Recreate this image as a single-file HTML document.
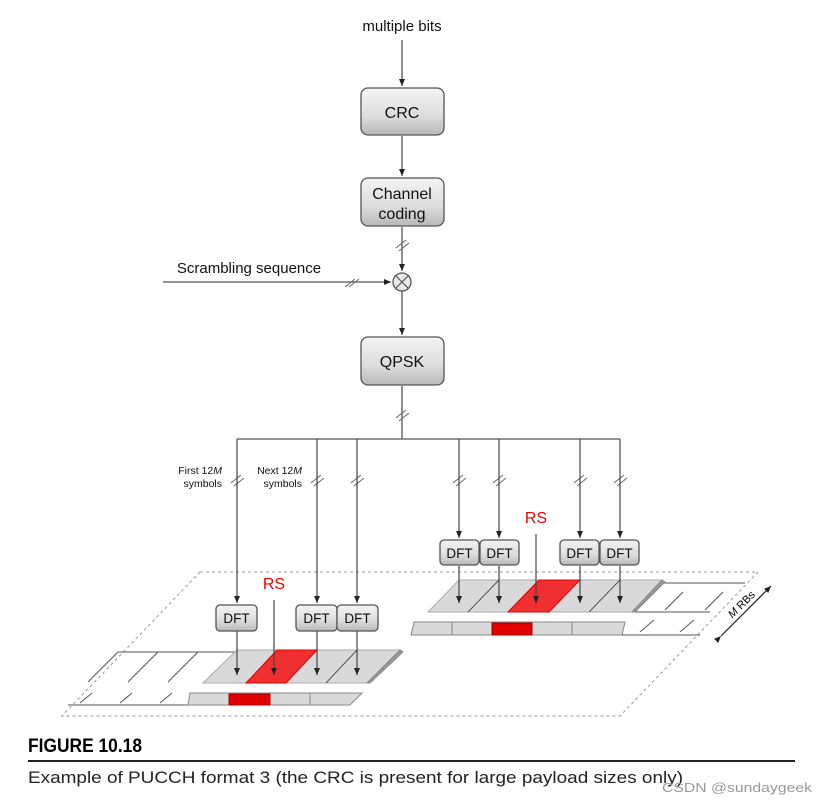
<!DOCTYPE html>
<html><head><meta charset="utf-8"><style>
html,body{margin:0;padding:0;background:#fff;}
svg{display:block;font-family:"Liberation Sans",Arial,sans-serif;}
</style></head><body>
<svg width="819" height="806" viewBox="0 0 819 806" xmlns="http://www.w3.org/2000/svg">
<defs>
<linearGradient id="g" x1="0" y1="0" x2="0" y2="1">
<stop offset="0" stop-color="#f4f4f4"/><stop offset="0.6" stop-color="#dcdcdc"/><stop offset="1" stop-color="#b8b8b8"/>
</linearGradient>
<marker id="a" markerWidth="8" markerHeight="8" refX="7" refY="4" orient="auto" markerUnits="userSpaceOnUse">
<path d="M0,1 L7,4 L0,7 z" fill="#222"/></marker>
</defs>
<g stroke="#555" stroke-width="1.3" fill="none">
<!-- top chain -->
<line x1="402" y1="40" x2="402" y2="86" marker-end="url(#a)"/>
<line x1="402" y1="136" x2="402" y2="176" marker-end="url(#a)"/>
<line x1="402" y1="227" x2="402" y2="271" marker-end="url(#a)"/>
<line x1="163" y1="282" x2="391" y2="282" marker-end="url(#a)"/>
<line x1="402" y1="291" x2="402" y2="335" marker-end="url(#a)"/>
<line x1="402" y1="386" x2="402" y2="439"/>
<line x1="237" y1="439" x2="620" y2="439"/>
</g>
<g stroke="#666" stroke-width="1" fill="none">
<path d="M396,248 l10,-8 M399,251 l10,-8"/>
<path d="M345,287 l10,-8 M349,287 l10,-8"/>
<path d="M396,418 l10,-8 M399,421 l10,-8"/>
<path d="M231,483 l10,-8 M234,486 l10,-8"/>
<path d="M311,483 l10,-8 M314,486 l10,-8"/>
<path d="M351,483 l10,-8 M354,486 l10,-8"/>
<path d="M453,483 l10,-8 M456,486 l10,-8"/>
<path d="M493,483 l10,-8 M496,486 l10,-8"/>
<path d="M574,483 l10,-8 M577,486 l10,-8"/>
<path d="M614,483 l10,-8 M617,486 l10,-8"/>
</g>
<!-- xor circle -->
<circle cx="402" cy="282" r="9" fill="#e8e8e8" stroke="#555" stroke-width="1.3"/>
<path d="M396,276 L408,288 M408,276 L396,288" stroke="#555" stroke-width="1.2"/>
<!-- dashed plane -->
<path d="M200,572 L758,572 L620,716 L62,716 Z" fill="none" stroke="#999" stroke-width="1" stroke-dasharray="3,3"/>
<!-- right strip -->
<g stroke="#555" stroke-width="1">
<line x1="662" y1="583" x2="745" y2="583"/>
<line x1="632" y1="612" x2="710" y2="612"/>
<path d="M665,610 l18,-18 M705,610 l18,-18 M640,632 l14,-12 M680,632 l14,-12" fill="none"/>
<polygon points="459,580 662,580 632,612 428,612" fill="#d9d9d9" stroke="#aaa"/>
<polygon points="662,580 665,582 635,612 632,612" fill="#999" stroke="#888"/>
<polygon points="539,580 580,580 549,612 508,612" fill="#f03030" stroke="#d00"/>
<path d="M499,580 L468,612 M620,580 L589,612" stroke="#555" fill="none"/>
<polygon points="414,622 625,622 622,635 411,635" fill="#d9d9d9" stroke="#888"/>
<rect x="492" y="623" width="40" height="12" fill="#e00000" stroke="#a00"/>
<path d="M452,622 v13 M572,622 v13" stroke="#888"/>
<line x1="622" y1="635" x2="700" y2="635"/>
</g>
<!-- left strip -->
<g stroke="#555" stroke-width="1">
<line x1="118" y1="652" x2="237" y2="652"/>
<line x1="68" y1="705" x2="188" y2="705"/>
<path d="M118,652 l-30,30 M158,652 l-30,30 M198,652 l-30,30 M80,703 l12,-10 M120,703 l12,-10 M160,703 l12,-10" fill="none"/>
<polygon points="237,650 400,650 367,683 203,683" fill="#d9d9d9" stroke="#aaa"/>
<polygon points="400,650 403,652 370,683 367,683" fill="#999" stroke="#888"/>
<polygon points="277,650 317,650 286,683 246,683" fill="#f03030" stroke="#d00"/>
<path d="M357,650 L326,683" stroke="#555" fill="none"/>
<polygon points="190,693 362,693 350,705 188,705" fill="#d9d9d9" stroke="#888"/>
<rect x="229" y="694" width="41" height="11" fill="#e00000" stroke="#a00"/>
<path d="M310,693 v12" stroke="#888"/>
</g>
<!-- verticals to DFT and down -->
<g stroke="#444" stroke-width="1.2" fill="none">
<line x1="237" y1="439" x2="237" y2="603" marker-end="url(#a)"/>
<line x1="317" y1="439" x2="317" y2="603" marker-end="url(#a)"/>
<line x1="357" y1="439" x2="357" y2="603" marker-end="url(#a)"/>
<line x1="237" y1="631" x2="237" y2="675" marker-end="url(#a)"/>
<line x1="317" y1="631" x2="317" y2="675" marker-end="url(#a)"/>
<line x1="357" y1="631" x2="357" y2="675" marker-end="url(#a)"/>
<line x1="274" y1="600" x2="274" y2="675" marker-end="url(#a)"/>
<line x1="459" y1="439" x2="459" y2="538" marker-end="url(#a)"/>
<line x1="499" y1="439" x2="499" y2="538" marker-end="url(#a)"/>
<line x1="580" y1="439" x2="580" y2="538" marker-end="url(#a)"/>
<line x1="620" y1="439" x2="620" y2="538" marker-end="url(#a)"/>
<line x1="459" y1="566" x2="459" y2="603" marker-end="url(#a)"/>
<line x1="499" y1="566" x2="499" y2="603" marker-end="url(#a)"/>
<line x1="580" y1="566" x2="580" y2="603" marker-end="url(#a)"/>
<line x1="620" y1="566" x2="620" y2="603" marker-end="url(#a)"/>
<line x1="536" y1="534" x2="536" y2="603" marker-end="url(#a)"/>
</g>
<!-- boxes -->
<g stroke="#555" stroke-width="1.3" fill="url(#g)">
<rect x="361" y="88" width="83" height="47" rx="7"/>
<rect x="361" y="178" width="83" height="48" rx="7"/>
<rect x="361" y="337" width="83" height="48" rx="7"/>
<rect x="216" y="605" width="41" height="26" rx="4"/>
<rect x="296" y="605" width="41" height="26" rx="4"/>
<rect x="337" y="605" width="41" height="26" rx="4"/>
<rect x="440" y="540" width="39" height="25" rx="4"/>
<rect x="480" y="540" width="39" height="25" rx="4"/>
<rect x="560" y="540" width="39" height="25" rx="4"/>
<rect x="600" y="540" width="39" height="25" rx="4"/>
</g>
<g fill="#111" font-size="16" text-anchor="middle">
<text x="402" y="31" font-size="15">multiple bits</text>
<text x="402" y="118">CRC</text>
<text x="402" y="199">Channel</text>
<text x="402" y="219">coding</text>
<text x="402" y="367">QPSK</text>
<text x="249" y="273" font-size="15">Scrambling sequence</text>
<g font-size="13.5">
<text x="236.5" y="623">DFT</text><text x="316.5" y="623">DFT</text><text x="357.5" y="623">DFT</text>
<text x="459.5" y="558">DFT</text><text x="499.5" y="558">DFT</text><text x="579.5" y="558">DFT</text><text x="619.5" y="558">DFT</text>
</g>
<g font-size="10.5" text-anchor="end">
<text x="222" y="474">First 12<tspan font-style="italic">M</tspan></text>
<text x="222" y="487">symbols</text>
<text x="302" y="474">Next 12<tspan font-style="italic">M</tspan></text>
<text x="302" y="487">symbols</text>
</g>
<text x="274" y="589" fill="#e00" font-size="16">RS</text>
<text x="536" y="523" fill="#e00" font-size="16">RS</text>
</g>
<line x1="721" y1="636" x2="771" y2="586" stroke="#222" stroke-width="1.2" marker-end="url(#a)" marker-start="url(#a)"/>
<text x="744" y="607" font-size="11" text-anchor="middle" transform="rotate(-45 744 607)"><tspan font-style="italic">M</tspan> RBs</text>
<!-- caption -->
<text x="28" y="752" font-size="19" font-weight="bold" textLength="114" lengthAdjust="spacingAndGlyphs">FIGURE 10.18</text>
<rect x="28" y="760" width="767" height="2" fill="#222"/>
<text x="28" y="783" font-size="17" fill="#222" textLength="655" lengthAdjust="spacingAndGlyphs">Example of PUCCH format 3 (the CRC is present for large payload sizes only)</text>
<text x="662" y="792" font-size="13" fill="#999" textLength="150" lengthAdjust="spacingAndGlyphs">CSDN @sundaygeek</text>
</svg>
</body></html>
